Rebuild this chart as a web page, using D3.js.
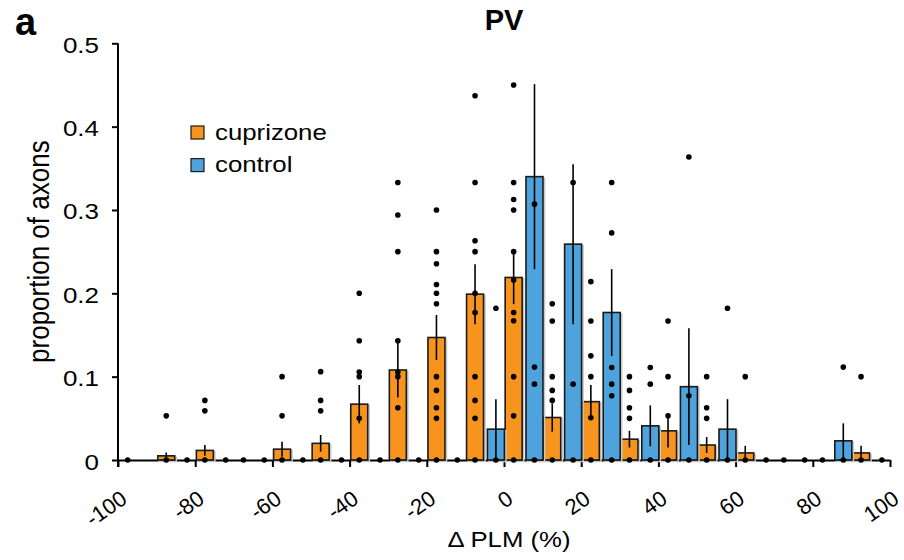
<!DOCTYPE html>
<html>
<head>
<meta charset="utf-8">
<style>
body { margin: 0; background: #fff; }
svg { font-family: "Liberation Sans", Arial, sans-serif; }
.bar { stroke: #1a1a1a; stroke-width: 1.6px; }
.shadow { fill: none; stroke: #c8c8c8; stroke-width: 1.6px; }
.err { stroke: #000; stroke-width: 1.6px; }
.axis-line { stroke: #000; stroke-width: 2px; }
.axis path, .axis line { stroke: #000; stroke-width: 2px; }
</style>
</head>
<body>
<svg id="chart" width="904" height="560"></svg>
<script src="https://cdn.jsdelivr.net/npm/d3@7"></script>
<script>
// bins of delta PLM (%)
var categories = [-100, -90, -80, -70, -60, -50, -40, -30, -20, -10, 0, 10, 20, 30, 40, 50, 60, 70, 80, 90, 100];

// cuprizone (orange)
var cupriMean = [0, 0.005, 0.0115, 0, 0.013, 0.020, 0.067, 0.108, 0.147, 0.199, 0.219, 0.051, 0.070, 0.025, 0.035, 0.018, 0.0085, 0, 0, 0.0085, null];
var cupriSem  = [0, 0.004, 0.0065, 0, 0.009, 0.010, 0.023, 0.033, 0.027, 0.036, 0.032, 0.017, 0.020, 0.010, 0.020, 0.0095, 0.0085, 0, 0, 0.0085, null];

// control (blue)
var ctrlMean = [null, null, 0, 0, 0, 0, 0, 0, 0, 0, 0.037, 0.340, 0.259, 0.177, 0.041, 0.088, 0.037, 0, 0, 0.023, 0];
var ctrlSem  = [null, null, 0, 0, 0, 0, 0, 0, 0, 0, 0.036, 0.111, 0.096, 0.052, 0.0245, 0.070, 0.036, 0, 0, 0.021, 0];

// individual animals
var cupriDots = [
  [0],
  [0.053, 0],
  [0.0715, 0.059, 0],
  [0],
  [0.1, 0.053, 0],
  [0.106, 0.0715, 0.059, 0],
  [0.2, 0.143, 0.1055, 0.1, 0.05, 0],
  [0.333, 0.294, 0.25, 0.143, 0.1055, 0.1, 0.0627, 0],
  [0.3, 0.25, 0.2355, 0.2105, 0.2, 0.1875, 0.1, 0.0835, 0.0627, 0.05, 0],
  [0.437, 0.333, 0.263, 0.25, 0.2, 0.177, 0.1, 0.0715, 0.05, 0],
  [0.45, 0.333, 0.3125, 0.3, 0.25, 0.216, 0.177, 0.167, 0.1, 0.053, 0],
  [0.1875, 0.1667, 0.1, 0.0835, 0.0715, 0],
  [0.214, 0.1667, 0.125, 0.1, 0.0507, 0],
  [0.1, 0.0835, 0.0627, 0.05, 0],
  [0.1667, 0.1, 0.053, 0],
  [0.1, 0.0627, 0.05, 0],
  [0.1, 0],
  [0],
  [0],
  [0.1, 0],
  []
];
var ctrlDots = [
  [], [],
  [0], [0], [0], [0], [0], [0], [0], [0],
  [0.182, 0],
  [0.307, 0.1115, 0.091, 0],
  [0.333, 0.091, 0],
  [0.333, 0.2725, 0.111, 0.091, 0.077, 0],
  [0.111, 0.091, 0],
  [0.3635, 0.077, 0],
  [0.182, 0],
  [0], [0],
  [0.1115, 0],
  [0]
];

var yTicks = [0, 0.1, 0.2, 0.3, 0.4, 0.5];
var xTicks = [-100, -80, -60, -40, -20, 0, 20, 40, 60, 80, 100];

var svg = d3.select("#chart");
var x = d3.scaleLinear().domain([-100, 100]).range([118, 890]);
var y = d3.scaleLinear().domain([0, 0.5]).range([460, 43.3]);

var series = [
  { name: "cuprizone", color: "#f7941d", mean: cupriMean, sem: cupriSem, dots: cupriDots, x0: 0.3, x1: 4.7 },
  { name: "control",   color: "#4fa3dc", mean: ctrlMean,  sem: ctrlSem,  dots: ctrlDots,  x0: -4.3, x1: 0.1 }
];

// axes
var yAxis = svg.append("g").attr("class", "axis")
  .attr("transform", "translate(118,0)")
  .call(d3.axisLeft(y).tickValues(yTicks).tickSize(6).tickSizeOuter(0)
    .tickFormat(function(d) { return d === 0 ? "0" : d.toFixed(1); }));
yAxis.select(".domain").remove();
yAxis.selectAll("text")
  .attr("x", null).attr("dy", null)
  .attr("transform", "translate(-19,9) scale(1.18,1)")
  .attr("text-anchor", "end")
  .style("font-size", "22px").style("fill", "#000");
svg.append("line").attr("class", "axis-line")
  .attr("x1", 118).attr("x2", 118).attr("y1", y(0.5)).attr("y2", y(0) + 7);

var xAxis = svg.append("g").attr("class", "axis")
  .attr("transform", "translate(0," + y(0) + ")")
  .call(d3.axisBottom(x).tickValues(xTicks).tickSize(7).tickSizeOuter(0)
    .tickFormat(function(d) { return String(d); }));
xAxis.selectAll("text")
  .attr("y", null).attr("dy", null)
  .attr("transform", "translate(10,42) rotate(-35)")
  .attr("text-anchor", "end")
  .style("font-size", "22px").style("fill", "#000");

// bars + error bars + dots
series.forEach(function(s) {
  var g = svg.append("g");
  var barData = categories.map(function(c, i) { return { c: c, m: s.mean[i], e: s.sem[i] }; })
    .filter(function(d) { return d.m; });

  g.selectAll(".shadow").data(barData).enter().append("rect")
    .attr("class", "shadow")
    .attr("x", function(d) { return x(d.c + s.x0) + 1.5; })
    .attr("y", function(d) { return y(d.m) + 1.5; })
    .attr("width", function(d) { return x(d.c + s.x1) - x(d.c + s.x0); })
    .attr("height", function(d) { return y(0) - y(d.m); });

  g.selectAll(".bar").data(barData).enter().append("rect")
    .attr("class", "bar")
    .attr("fill", s.color)
    .attr("x", function(d) { return x(d.c + s.x0); })
    .attr("y", function(d) { return y(d.m); })
    .attr("width", function(d) { return x(d.c + s.x1) - x(d.c + s.x0); })
    .attr("height", function(d) { return y(0) - y(d.m); });
});

series.forEach(function(s) {
  var mid = (s.x0 + s.x1) / 2;
  var barData = categories.map(function(c, i) { return { c: c, m: s.mean[i], e: s.sem[i] }; })
    .filter(function(d) { return d.m && d.e; });
  svg.append("g").selectAll("line").data(barData).enter().append("line")
    .attr("class", "err")
    .attr("x1", function(d) { return x(d.c + mid); })
    .attr("x2", function(d) { return x(d.c + mid); })
    .attr("y1", function(d) { return y(d.m + d.e); })
    .attr("y2", function(d) { return y(Math.max(0, d.m - d.e)); });
});

series.forEach(function(s) {
  var mid = (s.x0 + s.x1) / 2;
  var pts = [];
  categories.forEach(function(c, i) {
    s.dots[i].forEach(function(v) { pts.push({ c: c, v: v }); });
  });
  svg.append("g").selectAll("circle").data(pts).enter().append("circle")
    .attr("cx", function(d) { return x(d.c + mid); })
    .attr("cy", function(d) { return y(d.v); })
    .attr("r", 2.8)
    .attr("fill", "#000");
});

// legend
var legend = svg.append("g");
series.forEach(function(s, i) {
  var ly = 126 + i * 32.6;
  legend.append("rect")
    .attr("x", 191).attr("y", ly).attr("width", 13).attr("height", 13)
    .attr("fill", s.color).attr("stroke", "#1a1a1a").attr("stroke-width", 1.2);
  legend.append("text")
    .attr("transform", "translate(215," + (ly + 13.5) + ") scale(1.2,1)")
    .style("font-size", "21.5px")
    .text(s.name);
});

// titles
svg.append("text")
  .attr("x", 504).attr("y", 30)
  .attr("text-anchor", "middle")
  .style("font-size", "29px").style("font-weight", "bold")
  .text("PV");

svg.append("text")
  .attr("x", 15).attr("y", 35)
  .style("font-size", "38px").style("font-weight", "bold")
  .text("a");

svg.append("text")
  .attr("transform", "translate(49," + ((y(0) + y(0.5)) / 2) + ") scale(1.1,1) rotate(-90)")
  .attr("text-anchor", "middle")
  .style("font-size", "26px")
  .text("proportion of axons");

svg.append("text")
  .attr("transform", "translate(509,547) scale(1.12,1)")
  .attr("text-anchor", "middle")
  .style("font-size", "23px")
  .text("\u0394 PLM (%)");
</script>
</body>
</html>
